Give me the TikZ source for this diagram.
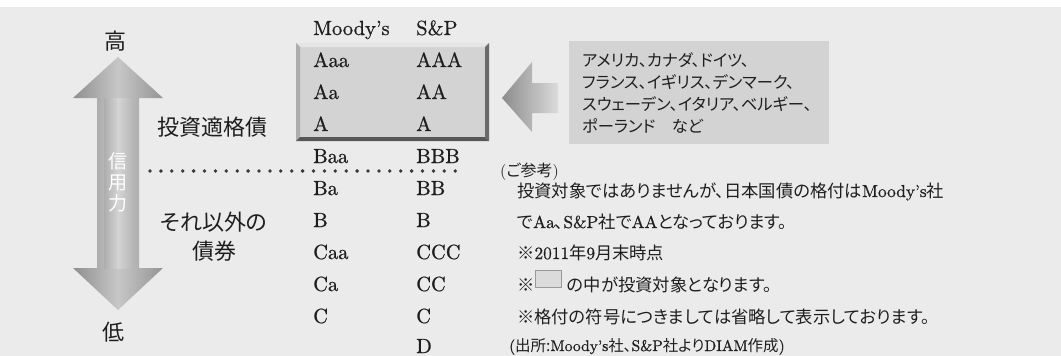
\documentclass[tikz,border=0pt]{standalone}
\usepackage{fontspec}
\setmainfont{lmroman10-regular.otf}[BoldFont=lmroman10-regular.otf, BoldFeatures={FakeBold=0.7}]
\newfontfamily\cjk[RawFeature=+palt]{Noto Sans CJK JP}
\newcommand\jp[1]{{\mdseries\cjk #1}}
\definecolor{bgc}{HTML}{EBEBEB}
\definecolor{txt}{HTML}{1E1E1E}
\definecolor{boxc}{HTML}{D3D3D3}
\definecolor{rboxc}{HTML}{D3D3D3}
\tikzset{
  tab/.style={anchor=base west, inner sep=0pt, text=txt, font=\bfseries\fontsize{20.5}{25}\selectfont},
  lbl/.style={inner sep=0pt, text=txt, font=\cjk\fontsize{22}{26}\selectfont},
  note/.style={anchor=base west, inner sep=0pt, text=txt, font=\bfseries\fontsize{17.3}{20}\selectfont},
}
\begin{document}
\begin{tikzpicture}[x=1pt,y=-1pt]
\useasboundingbox (0,0) rectangle (1061,356);
\fill[white] (0,0) rectangle (1061,356);
\fill[bgc] (0,7) rectangle (1061,356);

% double arrow
\shade[left color=black!44, right color=black!42, middle color=black!22]
  (118,57) -- (163,98) -- (139,98) -- (139,268) -- (163,268) -- (118,310)
  -- (73,268) -- (97,268) -- (97,98) -- (73,98) -- cycle;
\shade[left color=black!32, right color=black!28, middle color=black!17]
  (104,98) rectangle (132,268);
\node[inner sep=0pt, text=white, align=center, font=\cjk\fontsize{19}{21}\selectfont] (cred) at (118,182) {信\\用\\力};
\node[lbl] (hi) at (115,41) {高};
\node[lbl] (lo) at (113,332) {低};

% labels
\node[lbl] (inv) at (212,127) {投資適格債};
\node[lbl, align=center, font=\cjk\fontsize{22}{29}\selectfont] (oth) at (214,237) {それ以外の\\債券};
\coordinate (dl) at (150,171);
\coordinate (dr) at (466,171);
\draw[black!78, line width=3.8pt, line cap=round, dash pattern=on 0pt off 10.9pt] (dl) -- (dr);

% table box
\fill[boxc] (296,43) rectangle (489,141);
\fill[black!10] (296,43) -- (489,43) -- (485,47) -- (300,47) -- cycle;
\fill[black!32] (296,43) -- (300,47) -- (300,137) -- (296,141) -- cycle;
\fill[black!58] (489,43) -- (489,141) -- (485,137) -- (485,47) -- cycle;
\fill[black!66] (296,141) -- (489,141) -- (485,137) -- (300,137) -- cycle;

\node[tab] (mh) at (313,35) {Moody's};
\node[tab] (sh) at (416,35) {S\&P};
\foreach \m/\s [count=\i from 1] in {Aaa/AAA,Aa/AA,A/A,Baa/BBB,Ba/BB,B/B,Caa/CCC,Ca/CC,C/C}{
  \node[tab] (m\i) at (313,35+32*\i) {\m};
  \node[tab] (s\i) at (416,35+32*\i) {\s};
}
\node[tab] (s10) at (416,353) {D};

% left arrow
\shade[left color=black!45, right color=black!14]
  (502,98) -- (532,62) -- (532,83) -- (558,83) -- (558,113) -- (532,113) -- (532,132) -- cycle;

% right box
\node[fill=rboxc, minimum width=260pt, minimum height=103pt, inner sep=0pt] (rb) at (699,92.5) {};
\node[anchor=west, inner sep=0pt, align=left, text=txt, font=\cjk\fontsize{16.3}{21.7}\selectfont] (cty) at (582,93)
  {アメリカ、カナダ、ドイツ、\\フランス、イギリス、デンマーク、\\スウェーデン、イタリア、ベルギー、\\ポーランド　など};

% notes
\node[note, font=\fontsize{16}{20}\selectfont] (n0) at (500,176) {(\jp{ご参考})};
\node[note] (n1) at (517,197) {\jp{投資対象ではありませんが、日本国債の格付は}Moody’s\jp{社}};
\node[note] (n2) at (517,228) {\jp{で}Aa\jp{、}S\&P\jp{社で}AA\jp{となっております。}};
\node[note] (n3) at (517,259) {\jp{※}2011\jp{年}9\jp{月末時点}};
\node[note] (n4a) at (517,291) {\jp{※}};
\node[fill=black!14, draw=black!40, line width=1.2pt, minimum width=26pt, minimum height=17pt, inner sep=0pt] (sq) at (548.5,279) {};
\node[note] (n4b) at (567,291) {\jp{の中が投資対象となります。}};
\node[note] (n5) at (517,323) {\jp{※格付の符号につきましては省略して表示しております。}};
\node[note, font=\bfseries\fontsize{15.5}{18}\selectfont] (n6) at (509,351) {(\jp{出所:}Moody's\jp{社、}S\&P\jp{社より}DIAM\jp{作成})};
\end{tikzpicture}
\end{document}
